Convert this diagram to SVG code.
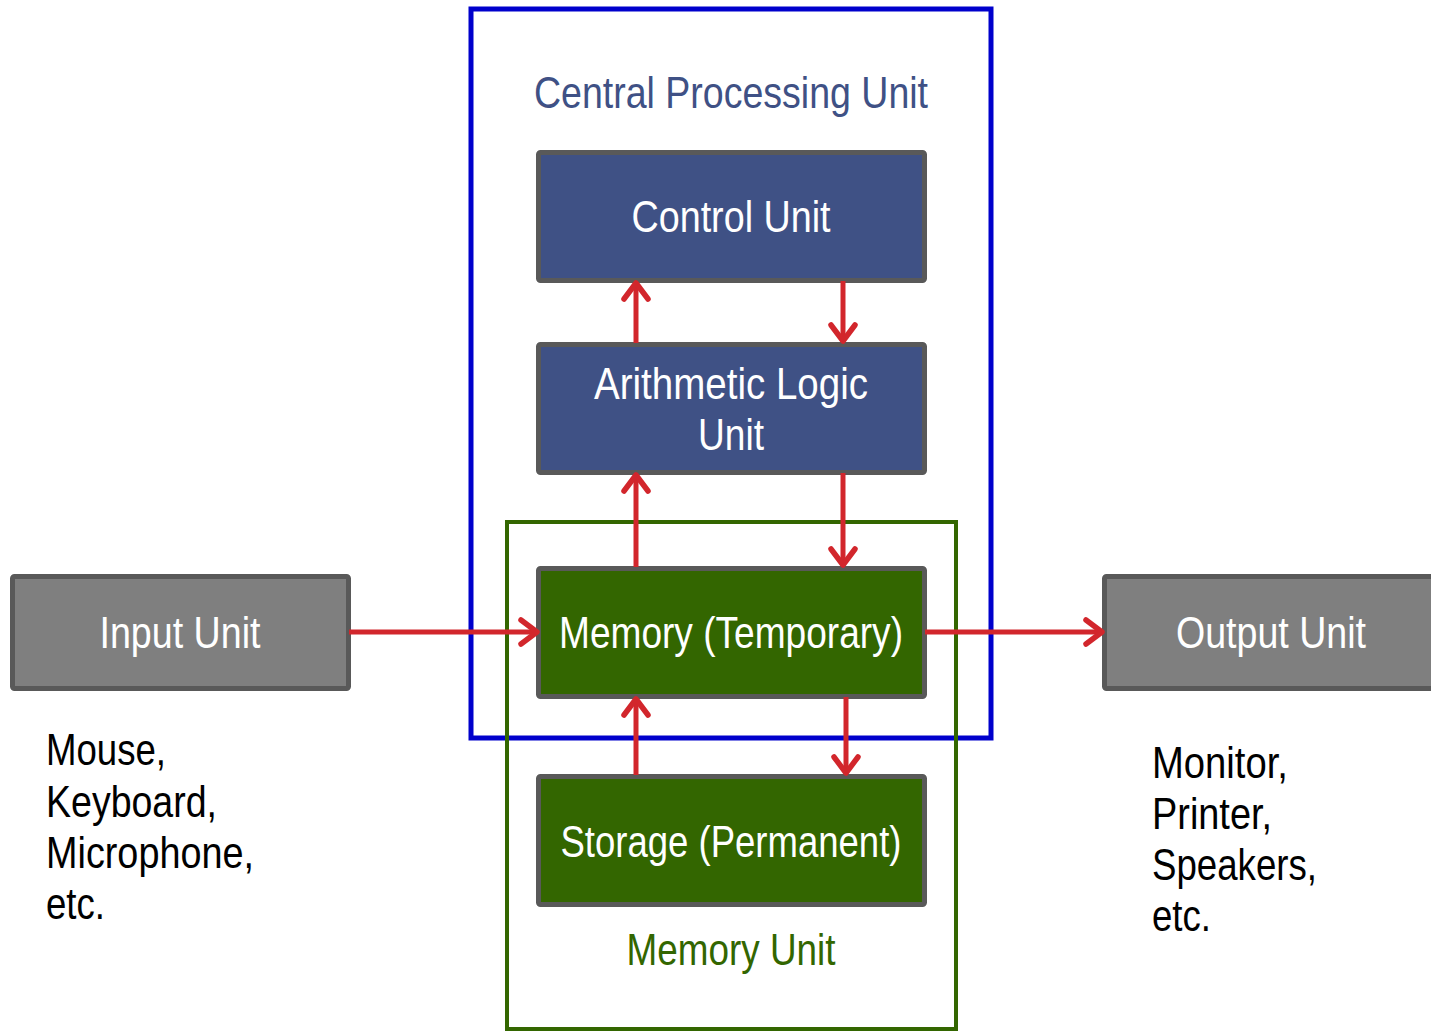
<svg xmlns="http://www.w3.org/2000/svg" width="1431" height="1033" viewBox="0 0 1431 1033">
<defs>
<style>
text{font-family:"Liberation Sans",Arial,sans-serif;font-size:45px}
.box{stroke:#595959;stroke-width:5}
.blue{fill:#3F5185}
.green{fill:#336600}
.gray{fill:#7F7F7F}
.wt{fill:#fff;text-anchor:middle}
.lbl{fill:#000}
.conn{stroke:#D2262C;stroke-width:5;fill:none}
</style>
<marker id="ah" viewBox="0 0 24 30" refX="20" refY="15" markerWidth="24" markerHeight="30" markerUnits="userSpaceOnUse" orient="auto">
<path d="M4,3 L20,15 L4,27" fill="none" stroke="#D2262C" stroke-width="5.5" stroke-linecap="round" stroke-linejoin="round"/>
</marker>
</defs>
<rect width="1431" height="1033" fill="#fff"/>
<g id="cpu">
<rect x="471" y="9" width="520" height="729" fill="none" stroke="#0000CC" stroke-width="5"/>
<text x="731" y="108" text-anchor="middle" fill="#3F5185" textLength="394" lengthAdjust="spacingAndGlyphs">Central Processing Unit</text>
</g>
<g id="memory-unit">
<rect x="507" y="522" width="449" height="507" fill="none" stroke="#336600" stroke-width="4"/>
<text x="731" y="965" text-anchor="middle" fill="#336600" textLength="209" lengthAdjust="spacingAndGlyphs">Memory Unit</text>
</g>
<g id="control-unit">
<rect class="box blue" x="538.5" y="152.5" width="386" height="128" rx="2"/>
<text class="wt" x="731" y="232" textLength="199" lengthAdjust="spacingAndGlyphs">Control Unit</text>
</g>
<g id="alu">
<rect class="box blue" x="538.5" y="344.5" width="386" height="128" rx="2"/>
<text class="wt" x="731" y="399" textLength="274" lengthAdjust="spacingAndGlyphs">Arithmetic Logic</text>
<text class="wt" x="731" y="450" textLength="66" lengthAdjust="spacingAndGlyphs">Unit</text>
</g>
<g id="memory-temp">
<rect class="box green" x="538.5" y="568.5" width="386" height="128" rx="2"/>
<text class="wt" x="731" y="648" textLength="344" lengthAdjust="spacingAndGlyphs">Memory (Temporary)</text>
</g>
<g id="storage">
<rect class="box green" x="538.5" y="776.5" width="386" height="128" rx="2"/>
<text class="wt" x="731" y="857" textLength="341" lengthAdjust="spacingAndGlyphs">Storage (Permanent)</text>
</g>
<g id="input-unit">
<rect class="box gray" x="12.5" y="576.5" width="336" height="112" rx="2"/>
<text class="wt" x="180" y="648" textLength="161" lengthAdjust="spacingAndGlyphs">Input Unit</text>
</g>
<g id="output-unit">
<rect class="box gray" x="1104.5" y="576.5" width="340" height="112" rx="2"/>
<text class="wt" x="1271" y="648" textLength="190" lengthAdjust="spacingAndGlyphs">Output Unit</text>
</g>
<g id="input-devices">
<text class="lbl" x="46" y="765" textLength="120" lengthAdjust="spacingAndGlyphs">Mouse,</text>
<text class="lbl" x="46" y="817" textLength="171" lengthAdjust="spacingAndGlyphs">Keyboard,</text>
<text class="lbl" x="46" y="868" textLength="208" lengthAdjust="spacingAndGlyphs">Microphone,</text>
<text class="lbl" x="46" y="919" textLength="59" lengthAdjust="spacingAndGlyphs">etc.</text>
</g>
<g id="output-devices">
<text class="lbl" x="1152" y="778" textLength="136" lengthAdjust="spacingAndGlyphs">Monitor,</text>
<text class="lbl" x="1152" y="829" textLength="120" lengthAdjust="spacingAndGlyphs">Printer,</text>
<text class="lbl" x="1152" y="880" textLength="165" lengthAdjust="spacingAndGlyphs">Speakers,</text>
<text class="lbl" x="1152" y="931" textLength="59" lengthAdjust="spacingAndGlyphs">etc.</text>
</g>
<g id="connectors">
<line class="conn" x1="349" y1="632" x2="537" y2="632" marker-end="url(#ah)"/>
<line class="conn" x1="925" y1="632" x2="1102" y2="632" marker-end="url(#ah)"/>
<line class="conn" x1="636" y1="343" x2="636" y2="283" marker-end="url(#ah)"/>
<line class="conn" x1="843" y1="281" x2="843" y2="341" marker-end="url(#ah)"/>
<line class="conn" x1="636" y1="567" x2="636" y2="475" marker-end="url(#ah)"/>
<line class="conn" x1="843" y1="473" x2="843" y2="565" marker-end="url(#ah)"/>
<line class="conn" x1="636" y1="775" x2="636" y2="699" marker-end="url(#ah)"/>
<line class="conn" x1="846" y1="697" x2="846" y2="773" marker-end="url(#ah)"/>
</g>
</svg>
